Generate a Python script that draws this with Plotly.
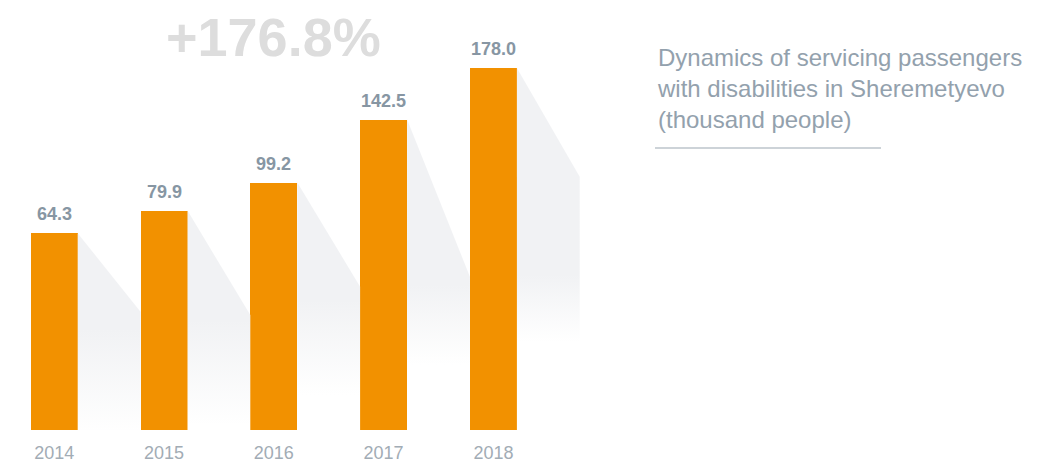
import plotly.graph_objects as go

# ---- data -------------------------------------------------------------
YEARS = ["2014", "2015", "2016", "2017", "2018"]
VALUES = [64.3, 79.9, 99.2, 142.5, 178.0]   # thousand people
TITLE_LINES = [
    "Dynamics of servicing passengers",
    "with disabilities in Sheremetyevo",
    "(thousand people)",
]

# ---- styling ----------------------------------------------------------
FONT = "Liberation Sans, Arial, Helvetica, sans-serif"
BAR_COLOR = "#F29100"
LABEL_COLOR = "#8796a3"
TITLE_COLOR = "#93a1ad"
YEAR_COLOR = "#a2acb5"
GROWTH_COLOR = "#dddddd"
SHADOW_COLOR = "#f1f2f4"

W, H = 1053, 463
MARGIN_B = 33
PLOT_H = H - MARGIN_B
PX_PER_X = 109.8          # pixels between neighbouring bars
X0_PX = 54.2              # pixel position of the first bar centre
PX_PER_Y = 1.4535         # pixels per thousand people
Y_FLOOR = -71.07          # value axis starts below zero
BAR_W = 0.428

# where each bar's cast shadow meets the next bar edge (axis units)
SHADOW_END = [10.3, 8.0, 27.5, 34.4, 103.2]
# vertical fade of each shadow: (fully faded, fully coloured) in axis units
SHADOW_FADE = [(-74.5, -2.3), (-67.6, 4.6), (-47.0, 18.4), (-26.4, 28.7), (-10.5, 35.6)]

x_pos = list(range(len(YEARS)))
growth = (VALUES[-1] / VALUES[0] - 1) * 100

fig = go.Figure()

# diagonal shadows behind the bars
for i, v in enumerate(VALUES):
    xr = x_pos[i] + BAR_W / 2
    xn = x_pos[i] + 1 - BAR_W / 2
    s = SHADOW_END[i]
    f0, f1 = SHADOW_FADE[i]
    fig.add_trace(go.Scatter(
        x=[xr, xn, xn, xr, xr],
        y=[v, s, Y_FLOOR, Y_FLOOR, v],
        mode="lines",
        fill="toself",
        line=dict(width=0, color="rgba(0,0,0,0)"),
        fillcolor=SHADOW_COLOR,
        fillgradient=dict(
            type="vertical",
            colorscale=[[0, "#ffffff"], [1, SHADOW_COLOR]],
            start=f0,
            stop=f1,
        ),
        hoverinfo="skip",
        showlegend=False,
    ))

# bars rising from the axis floor up to their values
fig.add_trace(go.Bar(
    x=x_pos,
    y=[v - Y_FLOOR for v in VALUES],
    base=Y_FLOOR,
    width=BAR_W,
    marker=dict(color=BAR_COLOR, line=dict(width=0)),
    customdata=VALUES,
    hovertemplate="%{customdata:.1f}<extra></extra>",
    showlegend=False,
))

# value labels above bars
for i, v in enumerate(VALUES):
    fig.add_annotation(
        x=x_pos[i], y=v, xref="x", yref="y",
        text=f"<b>{v:.1f}</b>",
        showarrow=False, yanchor="middle", yshift=19,
        font=dict(family=FONT, size=18, color=LABEL_COLOR),
    )

# overall growth headline
fig.add_annotation(
    x=2, y=(PLOT_H - 37) / PLOT_H, xref="x", yref="paper",
    text=f"<b>+{growth:.1f}%</b>",
    showarrow=False, yanchor="middle", xanchor="center",
    font=dict(family=FONT, size=54, color=GROWTH_COLOR),
)

# chart caption on the right
fig.add_annotation(
    x=655 / W, y=(PLOT_H - 42) / PLOT_H, xref="paper", yref="paper",
    text="<br>".join(TITLE_LINES),
    showarrow=False, xanchor="left", yanchor="top", align="left",
    font=dict(family=FONT, size=24, color=TITLE_COLOR),
)
fig.add_shape(
    type="line", xref="paper", yref="paper",
    x0=655 / W, x1=881 / W,
    y0=(PLOT_H - 148) / PLOT_H, y1=(PLOT_H - 148) / PLOT_H,
    line=dict(color="#9ba7b1", width=1),
)

fig.update_layout(
    width=W, height=H,
    margin=dict(l=0, r=0, t=0, b=MARGIN_B),
    paper_bgcolor="white", plot_bgcolor="white",
    xaxis=dict(
        range=[-X0_PX / PX_PER_X, (W - X0_PX) / PX_PER_X],
        tickvals=x_pos, ticktext=YEARS,
        showgrid=False, zeroline=False, showline=False, ticks="",
        ticklabelstandoff=10,
        tickfont=dict(family=FONT, size=18, color=YEAR_COLOR),
        fixedrange=True,
    ),
    yaxis=dict(
        range=[Y_FLOOR, Y_FLOOR + PLOT_H / PX_PER_Y],
        showgrid=False, zeroline=False, showline=False,
        showticklabels=False, ticks="", fixedrange=True,
    ),
    bargap=0,
)

fig.write_html("out.html")
